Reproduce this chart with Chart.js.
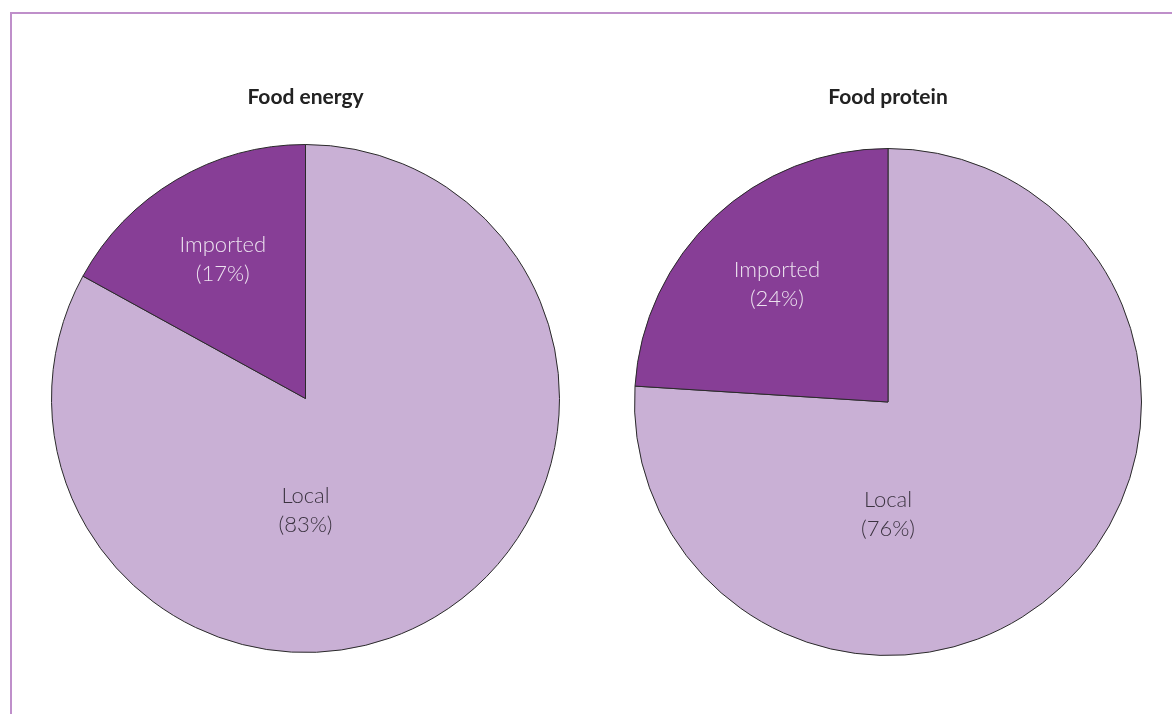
<!DOCTYPE html>
<html>
<head>
<meta charset="utf-8">
<script src="https://cdn.jsdelivr.net/npm/chart.js@4"></script>
<style>
  html, body { margin: 0; padding: 0; background: #fff; }
  body { width: 1172px; height: 714px; position: relative; overflow: hidden; }
  .frame {
    position: absolute; left: 10px; top: 12px; right: -10px; bottom: -10px;
    border-top: 2px solid #bf8fca; border-left: 2px solid #bf8fca;
  }
  .pie { position: absolute; }
  #energyBox { left: 51px; top: 75px; width: 509px; height: 578px; }
  #proteinBox { left: 634px; top: 79px; width: 508px; height: 577px; }
</style>
</head>
<body>
<div class="frame"></div>
<div class="pie" id="energyBox"><canvas id="energyChart"></canvas></div>
<div class="pie" id="proteinBox"><canvas id="proteinChart"></canvas></div>
<script>
// shares of food supply, local vs imported
const categories = ["Local", "Imported"];
const energyShare = [83, 17];
const proteinShare = [76, 24];

const sliceColors = ["#c9b0d5", "#873e96"];
const labelColors = ["#3b3340", "#ece2ef"];

// draws "Name (xx%)" inside each slice
const sliceLabels = {
  id: "sliceLabels",
  afterDatasetsDraw(chart) {
    const { ctx } = chart;
    const meta = chart.getDatasetMeta(0);
    const values = chart.data.datasets[0].data;
    meta.data.forEach((arc, i) => {
      const { x, y, startAngle, endAngle, outerRadius } = arc.getProps(
        ["x", "y", "startAngle", "endAngle", "outerRadius"], true);
      let lx, ly;
      if (i === 0) {
        // large slice: label sits below the centre
        lx = x;
        ly = y + outerRadius * 0.44;
      } else {
        const mid = (startAngle + endAngle) / 2;
        const r = outerRadius * 0.64;
        lx = x + Math.cos(mid) * r;
        ly = y + Math.sin(mid) * r;
      }
      ctx.save();
      ctx.font = "300 22px Lato, 'Open Sans', sans-serif";
      ctx.fillStyle = labelColors[i];
      ctx.textAlign = "center";
      ctx.textBaseline = "middle";
      ctx.fillText(chart.data.labels[i], lx, ly - 14);
      ctx.fillText("(" + values[i] + "%)", lx, ly + 15);
      ctx.restore();
    });
  }
};

function makePie(id, title, values, pad) {
  return new Chart(document.getElementById(id), {
    type: "pie",
    data: {
      labels: categories,
      datasets: [{
        data: values,
        backgroundColor: sliceColors,
        borderColor: "#2a2a2a",
        borderWidth: 1,
        hoverOffset: 0
      }]
    },
    options: {
      responsive: true,
      maintainAspectRatio: false,
      animation: false,
      layout: { padding: 0 },
      plugins: {
        legend: { display: false },
        tooltip: { enabled: false },
        title: {
          display: true,
          text: title,
          color: "#222",
          font: { family: "Lato, 'Open Sans', sans-serif", size: 21, weight: "bold" },
          padding: pad
        }
      }
    },
    plugins: [sliceLabels]
  });
}

makePie("energyChart", "Food energy", energyShare, { top: 10, bottom: 33.8 });
makePie("proteinChart", "Food protein", proteinShare, { top: 6, bottom: 37.8 });
</script>
</body>
</html>
